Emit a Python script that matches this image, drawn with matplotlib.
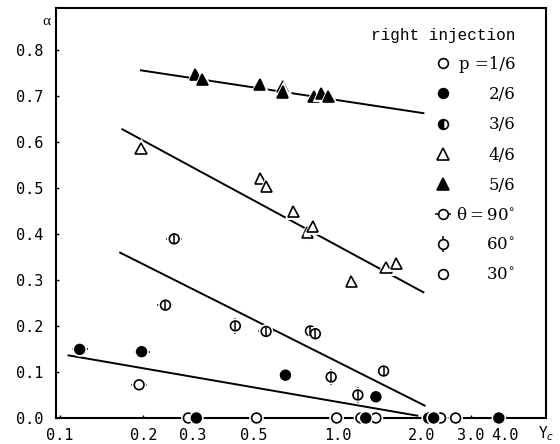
import matplotlib
matplotlib.use('Agg')
import matplotlib.pyplot as plt
from matplotlib.lines import Line2D
from matplotlib.legend_handler import HandlerTuple
import matplotlib.patheffects as pe

# ---------------- data ----------------
# p = 1/6 (open circles)
p1_x = [0.193, 0.29, 0.51, 0.99, 1.21, 1.37, 2.34, 2.65]
p1_y = [0.072, 0.0, 0.0, 0.0, 0.0, 0.0, 0.0, 0.0]
p1_theta = [90, 30, 30, 30, 30, 30, 30, 30]
# p = 2/6 (filled circles)
p2_x = [0.118, 0.197, 0.648, 1.37, 0.31, 1.26, 2.12, 2.21, 3.79]
p2_y = [0.149, 0.144, 0.093, 0.046, 0.0, 0.0, 0.0, 0.0, 0.0]
p2_theta = [90, 90, 30, 30, 30, 30, 30, 30, 30]
# p = 3/6 (half circles, printed as circle with bar)
p3_x = [0.240, 0.258, 0.428, 0.552, 0.797, 0.83, 0.946, 1.18, 1.46]
p3_y = [0.245, 0.389, 0.200, 0.188, 0.189, 0.183, 0.089, 0.050, 0.102]
p3_theta = [90, 90, 60, 90, 30, 30, 60, 60, 30]
# p = 4/6 (open triangles)
p4_x = [0.196, 0.527, 0.552, 0.691, 0.776, 0.812, 1.116, 1.49, 1.62]
p4_y = [0.585, 0.521, 0.502, 0.449, 0.402, 0.415, 0.297, 0.326, 0.335]
p4_theta = [60, 60, 60, 60, 60, 60, 60, 60, 60]
# p = 5/6 (filled triangles)
p5_x = [0.307, 0.325, 0.524, 0.634, 0.634, 0.819, 0.871, 0.925]
p5_y = [0.745, 0.735, 0.724, 0.719, 0.708, 0.698, 0.705, 0.699]

# fitted lines (start / end points)
fit_x0 = [0.196, 0.168, 0.165, 0.1076]
fit_y0 = [0.755, 0.627, 0.359, 0.136]
fit_x1 = [2.03, 2.03, 2.05, 1.93]
fit_y1 = [0.662, 0.273, 0.027, 0.005]

xticks = [0.1, 0.2, 0.3, 0.5, 1.0, 2.0, 3.0, 4.0]
xticklabels = ['0.1', '0.2', '0.3', '0.5', '1.0', '2.0', '3.0', '4.0']
yticks = [0.0, 0.1, 0.2, 0.3, 0.4, 0.5, 0.6, 0.7, 0.8]
yticklabels = ['0.0', '0.1', '0.2', '0.3', '0.4', '0.5', '0.6', '0.7', '0.8']

legend_title = 'right injection'
legend_labels = ['p =1/6', '2/6', '3/6', '4/6', '5/6',
                 'θ\u2009=\u200990$^{\\circ}$', '60$^{\\circ}$', '30$^{\\circ}$']

# ---------------- plot ----------------
fig = plt.figure(figsize=(5.6, 4.44), dpi=100)
ax = fig.add_axes([0.1, 0.0586, 0.875, 0.923])
ax.set_xscale('log')
ax.set_xlim(0.097, 5.6)
ax.set_ylim(0, 0.89)

halo = [pe.withStroke(linewidth=3.5, foreground='white')]
MS = 7.0
TRI = 8.0

for xa, ya, xb, yb in zip(fit_x0, fit_y0, fit_x1, fit_y1):
    ax.plot([xa, xb], [ya, yb], color='black', lw=1.4, zorder=2)


def theta_ticks(xs, ys, th, size):
    for ang, mk in ((90, '_'), (60, '|')):
        sx = [x for x, t in zip(xs, th) if t == ang]
        sy = [y for y, t in zip(ys, th) if t == ang]
        if sx:
            ax.plot(sx, sy, ls='none', marker=mk, ms=size, mew=1.1,
                    color='black', zorder=3, clip_on=False)


theta_ticks(p1_x, p1_y, p1_theta, MS * 1.7)
ax.plot(p1_x, p1_y, ls='none', marker='o', ms=MS, mfc='white', mec='black',
        mew=1.2, zorder=4, clip_on=False, path_effects=halo)

theta_ticks(p2_x, p2_y, p2_theta, MS * 1.7)
ax.plot(p2_x, p2_y, ls='none', marker='o', ms=MS, mfc='black', mec='black',
        mew=1.2, zorder=4, clip_on=False, path_effects=halo)

theta_ticks(p3_x, p3_y, p3_theta, MS * 1.7)
ax.plot(p3_x, p3_y, ls='none', marker='o', ms=MS, mfc='white', mec='black',
        mew=1.2, zorder=4, clip_on=False, path_effects=halo)
ax.plot(p3_x, p3_y, ls='none', marker='|', ms=MS, mew=1.1, color='black',
        zorder=5, clip_on=False)

theta_ticks(p4_x, p4_y, p4_theta, TRI * 1.45)
ax.plot(p4_x, p4_y, ls='none', marker='^', ms=TRI, mfc='white', mec='black',
        mew=1.2, zorder=4, clip_on=False, path_effects=halo)

ax.plot(p5_x, p5_y, ls='none', marker='^', ms=TRI, mfc='black', mec='black',
        mew=1.2, zorder=4, clip_on=False, path_effects=halo)

# axes styling
for s in ax.spines.values():
    s.set_linewidth(1.5)
ax.set_xticks(xticks)
ax.set_xticklabels(xticklabels)
ax.xaxis.set_minor_locator(matplotlib.ticker.NullLocator())
ax.set_yticks(yticks)
ax.set_yticklabels(yticklabels)
ax.tick_params(axis='both', direction='in', length=2.5, width=1)
ax.tick_params(axis='y', pad=9)
ax.tick_params(axis='x', pad=7)
for lab in ax.get_xticklabels() + ax.get_yticklabels():
    lab.set_fontfamily('DejaVu Sans Mono')
    lab.set_fontsize(11)

ax.set_ylabel('α', rotation=0, fontsize=11, fontfamily='Liberation Serif',
              ha='center', va='center')
ax.yaxis.set_label_coords(-0.02, 0.968)
ax.set_xlabel('Y$_c$', fontsize=10.5, fontfamily='DejaVu Sans Mono',
              ha='center', va='baseline')
ax.xaxis.set_label_coords(1.0, -0.050)

# legend
def mk(**kw):
    d = dict(ls='none', color='black', mec='black', mew=1.2)
    d.update(kw)
    return Line2D([], [], **d)

handles = [
    mk(marker='o', ms=MS, mfc='white'),
    mk(marker='o', ms=MS, mfc='black'),
    mk(marker='o', ms=MS, fillstyle='left', mfc='black', mfcalt='white'),
    mk(marker='^', ms=TRI, mfc='white'),
    mk(marker='^', ms=TRI, mfc='black'),
    (mk(marker='_', ms=MS * 1.7, mew=1.1), mk(marker='o', ms=MS, mfc='white')),
    (mk(marker='|', ms=MS * 1.7, mew=1.1), mk(marker='o', ms=MS, mfc='white')),
    mk(marker='o', ms=MS, mfc='white'),
]
placeholder = ' ' * 11
leg = ax.legend(handles, [placeholder] * len(handles), title=legend_title,
                loc='upper right', bbox_to_anchor=(0.937, 0.952),
                frameon=False, borderpad=0, borderaxespad=0,
                handlelength=1.0, handletextpad=0.36, labelspacing=0.79,
                alignment='right',
                prop={'family': 'DejaVu Serif', 'size': 12},
                title_fontproperties={'family': 'Liberation Mono', 'size': 11.5},
                handler_map={tuple: HandlerTuple(ndivide=1, pad=0)})
for t, lbl in zip(leg.get_texts(), legend_labels):
    ax.annotate(lbl, xy=(1, 0.5), xycoords=t, ha='right', va='center',
                fontsize=12, fontfamily='DejaVu Serif', zorder=10)

fig.savefig('out.png', dpi=100)
